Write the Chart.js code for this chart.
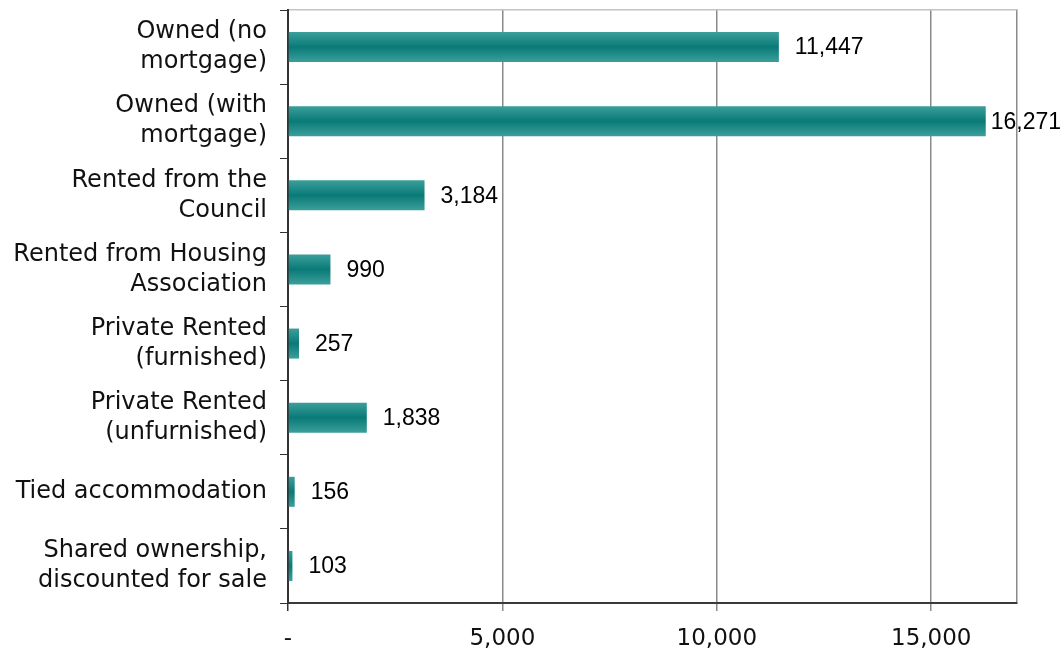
<!DOCTYPE html>
<html>
<head>
<meta charset="utf-8">
<script src="https://cdn.jsdelivr.net/npm/chart.js@4/dist/chart.umd.min.js"></script>
<style>
  html, body { margin: 0; padding: 0; background: #ffffff; }
  #wrap { width: 1064px; height: 650px; position: relative; }
</style>
</head>
<body>
<div id="wrap"><canvas id="tenure"></canvas></div>
<script>
// Household tenure categories (multi-line labels) and household counts
const categories = [
  ['Owned (no', 'mortgage)'],
  ['Owned (with', 'mortgage)'],
  ['Rented from the', 'Council'],
  ['Rented from Housing', 'Association'],
  ['Private Rented', '(furnished)'],
  ['Private Rented', '(unfurnished)'],
  'Tied accommodation',
  ['Shared ownership,', 'discounted for sale']
];
const households = [11447, 16271, 3184, 990, 257, 1838, 156, 103];

// Value axis range and tick positions
const axisMin = 0;
const axisMax = 17000;
const xTickValues = [0, 5000, 10000, 15000, 17000];

const BAR_PCT = 0.405;

// Cylinder-like shading: light edges, dark centre, per bar
function barGradient(context) {
  const chart = context.chart;
  const y = chart.scales && chart.scales.y;
  if (!chart.chartArea || !y || context.dataIndex === undefined) return '#0b7b78';
  const centre = y.getPixelForValue(context.dataIndex);
  const band = Math.abs(y.getPixelForValue(1) - y.getPixelForValue(0));
  const half = band * BAR_PCT / 2;
  const g = chart.ctx.createLinearGradient(0, centre - half, 0, centre + half);
  g.addColorStop(0, '#3b9f9b');
  g.addColorStop(0.5, '#0a7a77');
  g.addColorStop(1, '#3b9f9b');
  return g;
}

// Numbers printed to the right of each bar
const valueLabels = {
  id: 'valueLabels',
  afterDatasetsDraw(chart) {
    const ctx = chart.ctx;
    const meta = chart.getDatasetMeta(0);
    ctx.save();
    ctx.font = '23px "Liberation Sans", Arial, sans-serif';
    ctx.fillStyle = '#000000';
    ctx.textBaseline = 'middle';
    ctx.textAlign = 'left';
    meta.data.forEach((bar, i) => {
      const txt = households[i].toLocaleString('en-US');
      const w = ctx.measureText(txt).width;
      const x = Math.min(bar.x + 16, chart.width - w - 3);
      ctx.fillText(txt, x, bar.y + 1);
    });
    ctx.restore();
  }
};

new Chart(document.getElementById('tenure'), {
  type: 'bar',
  data: {
    labels: categories,
    datasets: [{
      data: households,
      backgroundColor: barGradient,
      borderWidth: 0,
      barPercentage: BAR_PCT,
      categoryPercentage: 1
    }]
  },
  options: {
    indexAxis: 'y',
    responsive: true,
    maintainAspectRatio: false,
    animation: false,
    layout: { padding: { top: 10, right: 47, bottom: 0, left: 0 } },
    plugins: {
      legend: { display: false },
      tooltip: { enabled: false }
    },
    scales: {
      x: {
        type: 'linear',
        position: 'bottom',
        min: axisMin,
        max: axisMax,
        afterBuildTicks: (s) => { s.ticks = xTickValues.map((v) => ({ value: v })); },
        ticks: {
          autoSkip: false,
          maxRotation: 0,
          padding: 14,
          color: '#111111',
          font: { family: '"DejaVu Sans", Verdana, sans-serif', size: 23 },
          callback: (v) => v === axisMin ? '-' : (v === axisMax ? '' : Number(v).toLocaleString('en-US'))
        },
        grid: {
          color: '#8a8a8a',
          lineWidth: 1.5,
          tickLength: 8,
          tickColor: (c) => c.index === 0 ? '#333333' : (c.tick && c.tick.value === axisMax ? 'rgba(0,0,0,0)' : '#8a8a8a')
        },
        border: { color: '#3a3a3a', width: 2 },
        afterFit: (s) => { s.height = 47; }
      },
      xTop: {
        type: 'linear',
        position: 'top',
        min: axisMin,
        max: axisMax,
        ticks: { display: false },
        grid: { drawOnChartArea: false, drawTicks: false },
        border: { color: '#c4c4c4', width: 1.5 },
        afterFit: (s) => { s.height = 0; s.paddingLeft = 0; s.paddingRight = 0; }
      },
      y: {
        type: 'category',
        offset: true,
        ticks: {
          autoSkip: false,
          padding: 13,
          color: '#111111',
          font: { family: '"DejaVu Sans", Verdana, sans-serif', size: 24, lineHeight: '30px' }
        },
        grid: {
          offset: true,
          drawOnChartArea: false,
          tickLength: 8,
          tickColor: '#333333'
        },
        border: { color: '#333333', width: 2 },
        afterFit: (s) => { s.width = 288; s.paddingTop = 0; s.paddingBottom = 0; }
      }
    }
  },
  plugins: [valueLabels]
});
</script>
</body>
</html>
